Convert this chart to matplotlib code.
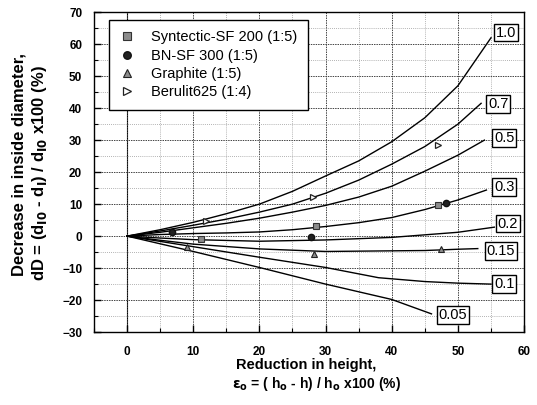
import matplotlib
matplotlib.use("Agg")
import matplotlib.pyplot as plt
from matplotlib.ticker import MultipleLocator

plt.rcParams['font.family'] = ['Liberation Sans', 'DejaVu Sans']
plt.rcParams['mathtext.default'] = 'bf'

# friction-factor calibration curves
x_10 = [0, 5, 10, 15, 20, 25, 30, 35, 40, 45, 50, 55]
y_10 = [0, 2, 4.3, 7, 10, 14, 18.8, 23.5, 29.5, 37, 47, 62]
x_07 = [0, 5, 10, 15, 20, 25, 30, 35, 40, 45, 50, 53.5]
y_07 = [0, 1.6, 3.4, 5.3, 7.5, 10, 13.4, 17.5, 22.5, 28, 35, 41.5]
x_05 = [0, 5, 10, 15, 20, 25, 30, 35, 40, 45, 50, 54]
y_05 = [0, 1.2, 2.6, 4, 5.6, 7.5, 9.6, 12.2, 15.6, 20.3, 25.3, 30]
x_03 = [0, 5, 10, 15, 20, 25, 30, 35, 40, 45, 50, 54.3]
y_03 = [0, 0.5, 0.8, 1, 1.3, 2, 3, 4.2, 5.8, 8.3, 11.3, 14.4]
x_02 = [0, 5, 10, 20, 30, 40, 50, 55.5]
y_02 = [0, -0.6, -1.1, -1.6, -1.2, -0.4, 1.2, 2.8]
x_015 = [0, 5, 10, 20, 30, 40, 45, 50, 53]
y_015 = [0, -1.3, -2.5, -4, -4.8, -4.6, -4.5, -4.1, -3.9]
x_01 = [0, 10, 20, 30, 38, 45, 50, 55]
y_01 = [0, -3.3, -6.6, -9.8, -13, -14.2, -14.7, -15]
x_005 = [0, 10, 20, 30, 40, 46]
y_005 = [0, -4.8, -9.8, -15, -19.8, -24.3]

curve_labels = ['1.0', '0.7', '0.5', '0.3', '0.2', '0.15', '0.1', '0.05']
label_x = [57.3, 56.1, 57.0, 57.0, 57.5, 56.5, 57.0, 49.2]
label_y = [63.6, 41.3, 30.6, 15.4, 3.9, -4.7, -15.0, -24.7]

# measured points
syn_x = [11.2, 28.6, 47.0]
syn_y = [-1.0, 3.2, 9.8]
bn_x = [6.8, 27.8, 48.2]
bn_y = [1.3, -0.4, 10.2]
gra_x = [9.0, 28.3, 47.5]
gra_y = [-3.3, -5.6, -4.0]
ber_x = [12.0, 28.1, 47.0]
ber_y = [4.8, 12.3, 28.4]

fig = plt.figure(figsize=(5.37, 4.05), dpi=100)
ax = fig.add_axes([0.175, 0.180, 0.801, 0.790])

curves = [(x_10, y_10), (x_07, y_07), (x_05, y_05), (x_03, y_03),
          (x_02, y_02), (x_015, y_015), (x_01, y_01), (x_005, y_005)]
for cx, cy in curves:
    ax.plot(cx, cy, color='black', lw=1.0, zorder=3)

for lab, lx, ly in zip(curve_labels, label_x, label_y):
    ax.text(lx, ly, lab, ha='center', va='center', fontsize=10.5, zorder=5,
            bbox=dict(boxstyle='square,pad=0.12', fc='white', ec='black', lw=1.0))

ax.plot(syn_x, syn_y, 's', ms=4.5, mfc='#8c8c8c', mec='#333333', mew=0.8,
        ls='none', zorder=4, label='Syntectic-SF 200 (1:5)')
ax.plot(bn_x, bn_y, 'o', ms=4.5, mfc='#222222', mec='#111111',
        ls='none', zorder=4, label='BN-SF 300 (1:5)')
ax.plot(gra_x, gra_y, '^', ms=5, mfc='#8c8c8c', mec='#222222', mew=0.8,
        ls='none', zorder=4, label='Graphite (1:5)')
ax.plot(ber_x, ber_y, '>', ms=5, mfc='white', mec='#222222', mew=0.9,
        ls='none', zorder=4, label='Berulit625 (1:4)')

ax.set_xlim(-5, 60)
ax.set_ylim(-30, 70)
ax.xaxis.set_major_locator(MultipleLocator(10))
ax.xaxis.set_minor_locator(MultipleLocator(5))
ax.yaxis.set_major_locator(MultipleLocator(10))
ax.yaxis.set_minor_locator(MultipleLocator(5))
ax.grid(which='major', color='#444444', ls=(0, (1.5, 1)), lw=0.7, zorder=0)
ax.grid(which='minor', color='#999999', ls=(0, (1, 1.5)), lw=0.6, zorder=0)
ax.axvline(0, color='black', lw=0.8, zorder=1)

ax.tick_params(which='major', direction='in', length=5, width=1, labelsize=8.5)
ax.tick_params(axis='x', which='major', pad=10)
ax.tick_params(axis='y', which='major', pad=8.5)
ax.tick_params(which='minor', direction='in', length=3, width=0.8)
for t in ax.get_xticklabels() + ax.get_yticklabels():
    t.set_fontweight('bold')
for s in ax.spines.values():
    s.set_linewidth(1.0)

leg = ax.legend(loc='upper left', bbox_to_anchor=(0.035, 0.975), borderaxespad=0,
                fontsize=10.5, frameon=True, fancybox=False, edgecolor='black',
                framealpha=1, handlelength=1.0, handletextpad=1.2, borderpad=0.7,
                labelspacing=0.3, markerscale=1.2)
leg.get_frame().set_linewidth(1.0)

fig.text(0.035, 0.593, 'Decrease in inside diameter,', rotation=90, ha='center',
         va='center', fontsize=12, fontweight='bold')
fig.text(0.073, 0.573, r'dD = (d$_{I0}$ - d$_{I}$) / d$_{I0}$ x100 (%)', rotation=90,
         ha='center', va='center', fontsize=12, fontweight='bold')
fig.text(0.570, 0.098, 'Reduction in height,', ha='center', va='center',
         fontsize=10.5, fontweight='bold')
fig.text(0.590, 0.053, r'$\epsilon_o$ = ( h$_o$ - h) / h$_o$ x100 (%)', ha='center',
         va='center', fontsize=10, fontweight='bold')

fig.savefig('out.png', dpi=100)
